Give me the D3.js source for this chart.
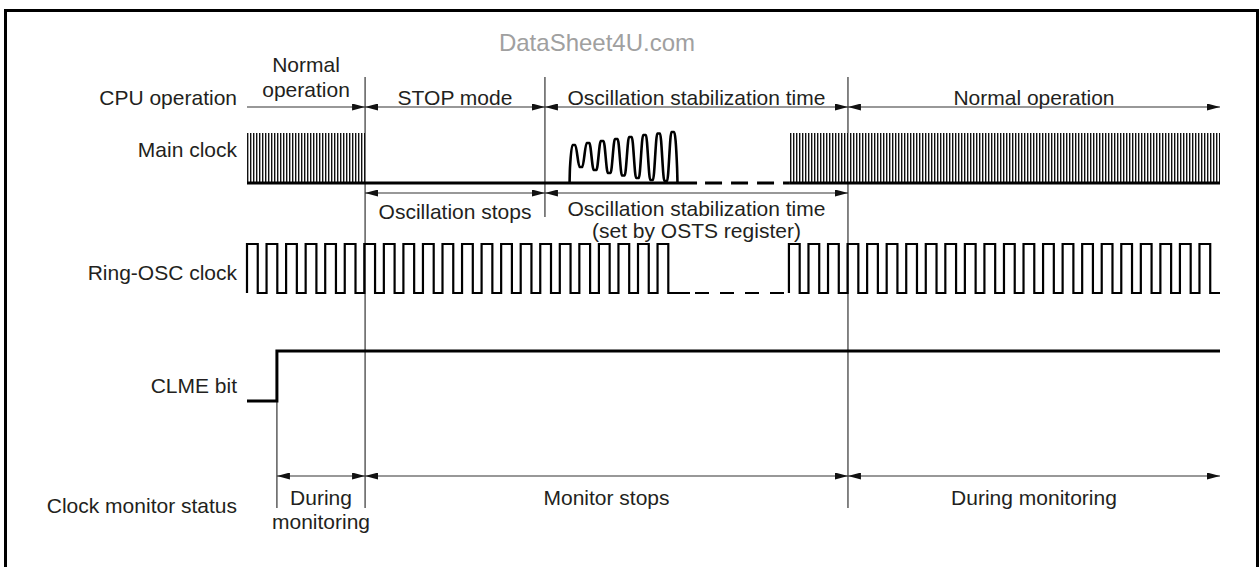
<!DOCTYPE html>
<html><head><meta charset="utf-8">
<script src="https://cdn.jsdelivr.net/npm/d3@7"></script>
<style>
html,body{margin:0;padding:0;background:#fff;}
svg{display:block;}
text{font-family:"Liberation Sans", Arial, Helvetica, sans-serif; fill:#231f20;}
</style></head>
<body>
<svg id="c" width="1259" height="567"></svg>
<script>
// ---- data (time in ring-OSC clock periods) ----
const rowLabels = ["CPU operation", "Main clock", "Ring-OSC clock", "CLME bit", "Clock monitor status"];
const phaseLabels = ["Normal\noperation", "STOP mode", "Oscillation stabilization time", "Normal operation"];
const phaseEdges = [0, 6.04, 15.24, 30.74, 49.77];
const mainLabels = ["Oscillation stops", "Oscillation stabilization time\n(set by OSTS register)"];
const mainEdges = [6.04, 15.24, 30.74];
const monitorLabels = ["During\nmonitoring", "Monitor stops", "During monitoring"];
const monitorEdges = [1.53, 6.04, 30.74, 49.77];
const mainFastRuns = [[0, 6.04], [27.77, 49.77]];
const oscStart = 16.52, oscEnd = 22.0;
const oscPeakLevels = [0.76, 0.80, 0.84, 0.88, 0.92, 0.96, 0.99, 1.02];
const oscTroughLevels = [0.32, 0.26, 0.20, 0.15, 0.10, 0.06, 0.04];
const mainDashFrom = 23.02, mainDashTo = 27.77;
const ringRuns = [[0, 22], [27.72, 22]];
const ringDuty = 0.55;
const ringSolidTo = 22.66;
const clmeRise = 1.53;
const watermark = "DataSheet4U.com";

// ---- scales ----
const x = d3.scaleLinear().domain([0, 49.77]).range([247, 1220]);
const yMain = d3.scaleLinear().domain([0, 1]).range([183, 133]);
const yRing = d3.scaleLinear().domain([0, 1]).range([293, 244]);
const yClme = d3.scaleLinear().domain([0, 1]).range([401, 351]);

const svg = d3.select("#c");
const FS = 21;
const defs = svg.append("defs");
const pat = defs.append("pattern").attr("id", "fast").attr("patternUnits", "userSpaceOnUse")
  .attr("width", 3).attr("height", 10).attr("x", x(0));
pat.append("rect").attr("width", 3).attr("height", 10).attr("fill", "#fff");
pat.append("rect").attr("width", 1.4).attr("height", 10).attr("fill", "#111");
defs.append("marker").attr("id", "arr").attr("viewBox", "0 0 13 7").attr("refX", 13).attr("refY", 3.5)
  .attr("markerWidth", 13).attr("markerHeight", 7).attr("markerUnits", "userSpaceOnUse")
  .attr("orient", "auto-start-reverse")
  .append("path").attr("d", "M0,0L13,3.5L0,7Z").attr("fill", "#111");

// border
svg.append("path").attr("d", "M5.5,567V10.5H1257.5V567").attr("fill", "none").attr("stroke", "#000").attr("stroke-width", 3);

// watermark
svg.append("text").attr("x", 597).attr("y", 42).attr("text-anchor", "middle").attr("dominant-baseline", "central")
  .attr("font-size", 24).style("fill", "#a0a0a0").text(watermark);

// row labels
const rowY = [97, 149, 272, 385, 505];
svg.selectAll("text.row").data(rowLabels).join("text").attr("class", "row")
  .attr("x", 237).attr("y", (d, i) => rowY[i]).attr("text-anchor", "end")
  .attr("dominant-baseline", "central").attr("font-size", FS).text(d => d);

// vertical guide lines
const guides = [[phaseEdges[1], 77, 508], [phaseEdges[2], 77, 217], [phaseEdges[3], 77, 508], [clmeRise, 401, 508]];
svg.selectAll("line.g").data(guides).join("line").attr("class", "g")
  .attr("x1", d => x(d[0])).attr("x2", d => x(d[0])).attr("y1", d => d[1]).attr("y2", d => d[2])
  .attr("stroke", "#333").attr("stroke-width", 1.2);

// dimension arrows helper
function dims(edges, labels, yLine, yText, gap, firstNoStart) {
  for (let i = 0; i < labels.length; i++) {
    const a = x(edges[i]), b = x(edges[i + 1]);
    const l = svg.append("line").attr("x1", a).attr("x2", b).attr("y1", yLine).attr("y2", yLine)
      .attr("stroke", "#333").attr("stroke-width", 1.2).attr("marker-end", "url(#arr)");
    if (!(firstNoStart && i === 0)) l.attr("marker-start", "url(#arr)");
    const lines = labels[i].split("\n");
    const yt = typeof yText === "function" ? yText(i, lines.length) : yText;
    lines.forEach((s, j) => {
      svg.append("text").attr("x", (a + b) / 2).attr("y", yt + j * gap)
        .attr("text-anchor", "middle").attr("dominant-baseline", "central").attr("font-size", FS).text(s);
    });
  }
}
dims(phaseEdges, phaseLabels, 107, (i, n) => n > 1 ? 64 : 97, 25, true);
dims(mainEdges, mainLabels, 193, (i, n) => n > 1 ? 208 : 211, 22, false);
dims(monitorEdges, monitorLabels, 476, 497, 24, false);

// main clock fast sections
svg.selectAll("rect.fast").data(mainFastRuns).join("rect").attr("class", "fast")
  .attr("x", d => x(d[0])).attr("width", d => x(d[1]) - x(d[0]))
  .attr("y", yMain(1)).attr("height", yMain(0) - yMain(1)).attr("fill", "url(#fast)");

const line = d3.line().x(d => x(d[0])).y(d => d[1]);
// main baseline
svg.append("path").attr("d", line([[0, yMain(0)], [mainDashFrom, yMain(0)]])).attr("stroke", "#000").attr("stroke-width", 3).attr("fill", "none");
svg.append("path").attr("d", line([[mainDashTo, yMain(0)], [49.77, yMain(0)]])).attr("stroke", "#000").attr("stroke-width", 3).attr("fill", "none");
svg.append("path").attr("d", line([[mainDashFrom, yMain(0)], [mainDashTo, yMain(0)]])).attr("stroke", "#000").attr("stroke-width", 3)
  .attr("stroke-dasharray", "17,9").attr("stroke-dashoffset", 18).attr("fill", "none");

// oscillation build-up (rounded extrema: two points at each extremum)
const oscPts = [[oscStart - 0.02, 0], [oscStart, 0.3]];
const nP = oscPeakLevels.length;
const step = (oscEnd - 0.22 - (oscStart + 0.2)) / (nP - 1);
const hw = 0.07;
oscPeakLevels.forEach((p, i) => {
  const t = oscStart + 0.2 + i * step;
  oscPts.push([t - hw, p], [t + hw, p]);
  if (i < oscTroughLevels.length) {
    const tt = t + step / 2;
    oscPts.push([tt - hw, oscTroughLevels[i]], [tt + hw, oscTroughLevels[i]]);
  }
});
oscPts.push([oscEnd, 0.3], [oscEnd + 0.02, 0]);
svg.append("path").attr("d", d3.line().x(d => x(d[0])).y(d => yMain(d[1])).curve(d3.curveMonotoneX)(oscPts))
  .attr("fill", "none").attr("stroke", "#000").attr("stroke-width", 2.6);

// ring osc
function ringPts(start, count, endT) {
  const pts = [];
  for (let k = 0; k < count; k++) {
    const t = start + k;
    pts.push([t, 0], [t, 1], [t + ringDuty, 1], [t + ringDuty, 0]);
  }
  pts.push([endT, 0]);
  return pts;
}
const rl = d3.line().x(d => x(d[0])).y(d => yRing(d[1]));
svg.append("path").attr("d", rl(ringPts(ringRuns[0][0], ringRuns[0][1], ringSolidTo))).attr("fill", "none").attr("stroke", "#000").attr("stroke-width", 2.2);
svg.append("path").attr("d", rl([[ringSolidTo, 0], [ringRuns[1][0], 0]])).attr("fill", "none").attr("stroke", "#000").attr("stroke-width", 2.2)
  .attr("stroke-dasharray", "14,11").attr("stroke-dashoffset", 20);
svg.append("path").attr("d", rl(ringPts(ringRuns[1][0], ringRuns[1][1], 49.77))).attr("fill", "none").attr("stroke", "#000").attr("stroke-width", 2.2);

// CLME bit
svg.append("path").attr("d", d3.line().x(d => x(d[0])).y(d => yClme(d[1]))([[0, 0], [clmeRise, 0], [clmeRise, 1], [49.77, 1]]))
  .attr("fill", "none").attr("stroke", "#000").attr("stroke-width", 3);
</script>
</body></html>
